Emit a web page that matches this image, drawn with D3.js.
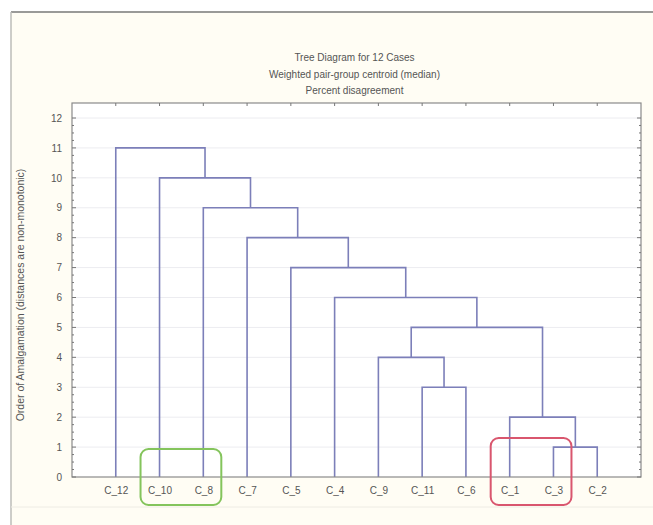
<!DOCTYPE html>
<html>
<head>
<meta charset="utf-8">
<script src="https://cdn.jsdelivr.net/npm/d3@7"></script>
<style>
  body { margin: 0; background: #fff; }
  text { font-family: "Liberation Sans", Arial, sans-serif; fill: #555; }
</style>
</head>
<body>
<div id="chart"></div>
<script>
// leaf order along the x axis
const leaves = ["C_12", "C_10", "C_8", "C_7", "C_5", "C_4", "C_9", "C_11", "C_6", "C_1", "C_3", "C_2"];
// merges: [left, right, order of amalgamation]
const merges = [
  ["C_3", "C_2", 1],
  ["C_1", "m1", 2],
  ["C_11", "C_6", 3],
  ["C_9", "m3", 4],
  ["m4", "m2", 5],
  ["C_4", "m5", 6],
  ["C_5", "m6", 7],
  ["C_7", "m7", 8],
  ["C_8", "m8", 9],
  ["C_10", "m9", 10],
  ["C_12", "m10", 11]
];
const yTicks = d3.range(0, 13);
const titles = ["Tree Diagram for 12 Cases", "Weighted pair-group centroid (median)", "Percent disagreement"];
const yLabel = "Order of Amalgamation (distances are non-monotonic)";
const highlights = [
  { from: "C_10", to: "C_8", color: "#84c45c", top: 449 },
  { from: "C_1", to: "C_3", color: "#d9566e", top: 438 }
];

const W = 653, H = 525;
const margin = { top: 103, right: 12, bottom: 48, left: 72 };

const svg = d3.select("#chart").append("svg")
  .attr("width", W)
  .attr("height", H);

// outer panel
svg.append("rect").attr("x", 11).attr("y", 12).attr("width", W - 11).attr("height", H - 12)
  .attr("fill", "#fffdf4");
svg.append("line").attr("x1", 11).attr("x2", W).attr("y1", 12).attr("y2", 12)
  .attr("stroke", "#9a9a98").attr("stroke-width", 2);
svg.append("line").attr("x1", 11).attr("x2", 11).attr("y1", 12).attr("y2", H)
  .attr("stroke", "#bdbdb8").attr("stroke-width", 1.5);
svg.append("line").attr("x1", 11).attr("x2", W).attr("y1", 507).attr("y2", 507)
  .attr("stroke", "#eeece4").attr("stroke-width", 1);

const x = d3.scalePoint()
  .domain(leaves)
  .range([margin.left, W - margin.right])
  .padding(1);

const y = d3.scaleLinear()
  .domain([0, 12])
  .range([H - margin.bottom, 118]);

const plotTop = margin.top, plotBottom = H - margin.bottom;

// plot background
svg.append("rect")
  .attr("x", margin.left).attr("y", plotTop)
  .attr("width", W - margin.right - margin.left).attr("height", plotBottom - plotTop)
  .attr("fill", "#fff");

// gridlines
svg.append("g").selectAll("line")
  .data(yTicks.filter(d => d > 0))
  .enter().append("line")
  .attr("x1", margin.left).attr("x2", W - margin.right)
  .attr("y1", d => y(d)).attr("y2", d => y(d))
  .attr("stroke", "#ececf0").attr("stroke-width", 1);

// titles
svg.append("g").selectAll("text")
  .data(titles)
  .enter().append("text")
  .attr("x", (margin.left + W - margin.right) / 2 - 2)
  .attr("y", (d, i) => 61 + i * 16.5)
  .attr("text-anchor", "middle")
  .style("font-size", "10px")
  .text(d => d);

// y axis label
svg.append("text")
  .attr("transform", `translate(24,${(plotTop + plotBottom) / 2 + 5}) rotate(-90)`)
  .attr("text-anchor", "middle")
  .style("font-size", "10.5px")
  .text(yLabel);

// build node positions from the merges
const pos = {};
leaves.forEach(l => { pos[l] = { x: x(l), h: 0 }; });

const links = svg.append("g");
merges.forEach((m, i) => {
  const a = pos[m[0]], b = pos[m[1]], h = m[2];
  links.append("path")
    .attr("d", `M${a.x},${y(a.h)}V${y(h)}H${b.x}V${y(b.h)}`)
    .attr("fill", "none")
    .attr("stroke", "#7c7fb9")
    .attr("stroke-width", 1.6);
  pos["m" + (i + 1)] = { x: (a.x + b.x) / 2, h: h };
});

// frame
svg.append("rect")
  .attr("x", margin.left).attr("y", plotTop)
  .attr("width", W - margin.right - margin.left).attr("height", plotBottom - plotTop)
  .attr("fill", "none").attr("stroke", "#8a8a8a").attr("stroke-width", 1.2);

// left axis
const yAxis = d3.axisLeft(y).tickValues(yTicks).tickSize(0).tickPadding(10);
const gy = svg.append("g").attr("transform", `translate(${margin.left},0)`).call(yAxis);
gy.select(".domain").remove();
gy.selectAll("text").style("font-size", "10px").style("font-family", "Liberation Sans, Arial, sans-serif").attr("fill", "#555");

// minor ticks on left and right
const minor = d3.range(0, 12.01, 0.25);
[margin.left, W - margin.right].forEach((xx, k) => {
  const dir = k === 0 ? 1 : -1;
  svg.append("g").selectAll("line")
    .data(minor)
    .enter().append("line")
    .attr("x1", xx).attr("x2", d => xx + dir * (Number.isInteger(d) ? 4 : 2))
    .attr("y1", d => y(d)).attr("y2", d => y(d))
    .attr("stroke", "#777").attr("stroke-width", 1);
});

// top ticks
svg.append("g").selectAll("line")
  .data(leaves)
  .enter().append("line")
  .attr("x1", d => x(d)).attr("x2", d => x(d))
  .attr("y1", plotTop).attr("y2", plotTop + 3)
  .attr("stroke", "#777");

// bottom axis labels
const xAxis = d3.axisBottom(x).tickSize(0).tickPadding(10);
const gx = svg.append("g").attr("transform", `translate(0,${plotBottom})`).call(xAxis);
gx.select(".domain").remove();
gx.selectAll("text").style("font-size", "10px").style("font-family", "Liberation Sans, Arial, sans-serif").attr("fill", "#555");

// highlight boxes
svg.append("g").selectAll("rect")
  .data(highlights)
  .enter().append("rect")
  .attr("x", d => x(d.from) - 19)
  .attr("y", d => d.top)
  .attr("width", d => x(d.to) - x(d.from) + 37)
  .attr("height", d => 505 - d.top)
  .attr("rx", 8)
  .attr("fill", "none")
  .attr("stroke", d => d.color)
  .attr("stroke-width", 2);
</script>
</body>
</html>
